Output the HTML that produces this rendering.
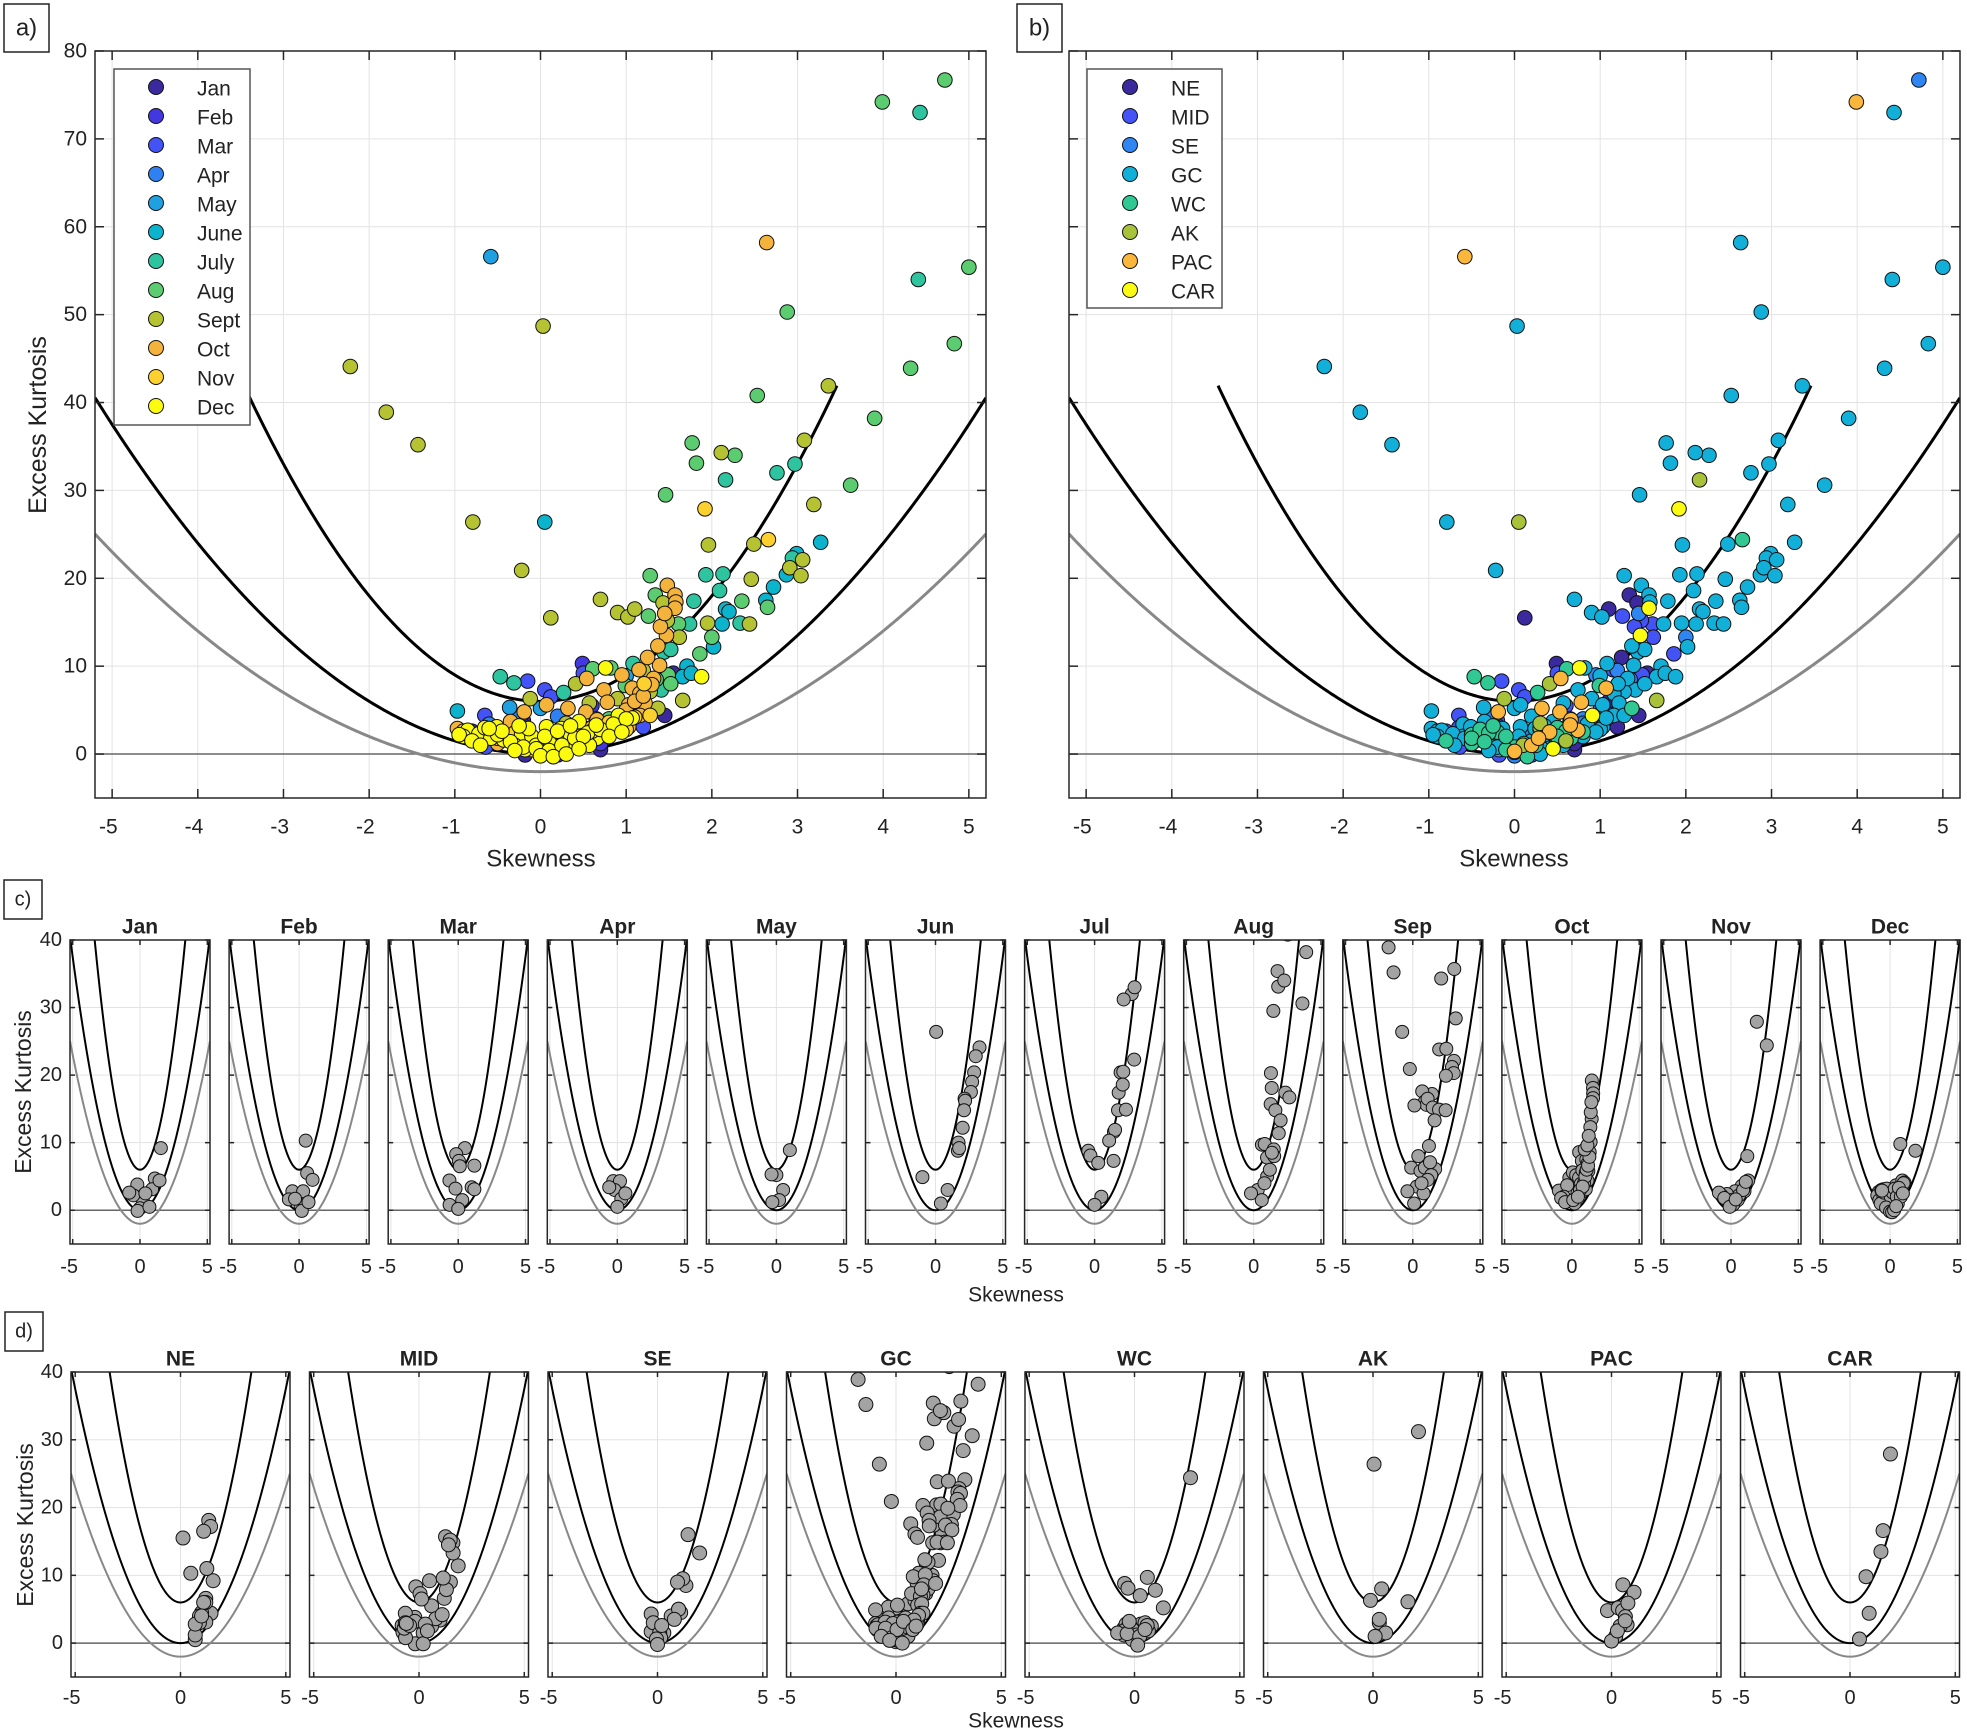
<!DOCTYPE html>
<html><head><meta charset="utf-8">
<style>
html,body{margin:0;padding:0;background:#fff;}
svg{display:block;font-family:"Liberation Sans",Arial,sans-serif;}
</style></head>
<body>
<svg id="fig" xmlns="http://www.w3.org/2000/svg" width="1967" height="1732" viewBox="0 0 1967 1732"></svg>
<script>
const monthTitles=['Jan','Feb','Mar','Apr','May','Jun','Jul','Aug','Sep','Oct','Nov','Dec'];
const monthLegend=['Jan','Feb','Mar','Apr','May','June','July','Aug','Sept','Oct','Nov','Dec'];
const regionNames=['NE','MID','SE','GC','WC','AK','PAC','CAR'];
const monthColors=['#3a2a9e','#4338e0','#4353f5','#2f80f0','#1fa0e0','#0bb4cc','#2ec4a0','#5ccc70','#b5c232','#f4b43c','#fcd02e','#fbfb10'];
const regionColors=['#3a2a9e','#4353f5','#2f86f3','#12b0d8','#30c893','#a8c23a','#fbb63c','#fcfc12'];
const xTicksMain=[-5,-4,-3,-2,-1,0,1,2,3,4,5];
const yTicksMain=[0,10,20,30,40,50,60,70,80];
const xTicksSmall=[-5,0,5];
const yTicksSmall=[0,10,20,30,40];

const skewByMonth=[
[1.55,1.1,-0.2,0.9,0.2,0.0,-0.5,1.45,-0.18,0.7,0.4,-0.8],
[0.49,0.6,1.0,-0.5,0.3,0.1,-0.76,0.2,-0.3,0.7],
[0.5,-0.15,1.2,0.05,0.12,-0.65,1.0,-0.2,0.3,-0.64,1.2,0.0],
[-0.3,0.2,-0.2,0.3,0.0,0.6,-0.6],
[1.0,0.0,0.5,-0.58,0.2,-0.36,-0.3],
[0.05,-0.97,3.27,2.99,2.87,2.72,2.63,2.16,2.2,2.12,2.02,1.71,1.66,1.76,0.9,0.4],
[4.43,4.41,2.76,2.97,2.16,2.94,1.93,2.13,1.79,2.09,1.74,2.33,1.44,1.52,1.08,-0.47,-0.31,0.27,1.41,0.5,0.0],
[3.99,4.72,5.0,4.83,4.32,2.88,2.53,3.90,1.77,1.82,2.27,3.62,1.46,1.28,1.34,2.35,2.65,1.26,1.61,2.0,1.86,0.61,0.82,0.99,1.49,1.52,0.3,0.6,-0.2,1.0,1.2,0.8,1.35],
[3.36,2.11,3.08,3.19,-0.79,0.03,-2.22,-1.8,-1.43,1.96,2.49,3.06,2.91,3.04,-0.22,2.46,1.43,0.70,0.90,1.02,1.10,0.12,1.48,1.95,2.44,1.62,1.66,-0.12,0.41,0.57,0.9,1.28,1.37,0.3,0.8,-0.4,0.1,1.1,0.65,1.2],
[2.64,1.48,1.57,1.58,1.57,1.47,1.37,1.39,0.54,0.74,1.32,1.07,1.16,-0.19,0.07,0.32,0.53,0.78,1.03,1.22,-0.97,-0.35,0.66,0.74,1.03,1.16,0.41,0.2,-0.6,0.9,1.0,1.1,1.2,1.3,0.6,0.8,0.95,1.15,1.25,1.4,1.45,-0.8,-0.5,0.1,0.45],
[1.92,2.66,1.21,1.28,0.8,0.3,-0.3,-0.7,0.0,0.5,1.0,-0.9,-0.5,0.15,0.6,0.9,1.1,-0.1,0.35],
[0.76,1.88,-0.85,-0.72,-0.51,-0.22,-0.1,0.07,0.24,0.45,0.91,1.07,0.86,0.66,0.49,0.32,0.15,0.0,-0.18,-0.3,-0.43,-0.58,0.28,0.11,-0.05,-0.14,0.57,-0.9,0.6,0.35,
 -0.95,-0.8,-0.65,-0.5,-0.35,-0.2,-0.05,0.1,0.25,0.4,0.55,0.7,0.85,1.0,-0.7,-0.45,-0.25,0.05,0.2,0.35,0.5,0.65,0.8,-0.3,0.0,0.15,0.3,0.45,-0.6,0.95]
];
const kurtByMonth=[
[9.2,4.7,3.8,3.1,1.5,0.3,2.2,4.4,-0.1,0.5,2.5,2.6],
[10.3,5.5,4.5,2.8,2.8,0.8,1.6,-0.1,1.7,1.2],
[9.2,8.3,6.6,7.3,6.5,4.4,3.4,3.2,1.5,0.8,3.1,0.2],
[4.3,4.3,3.0,1.7,0.5,2.5,3.4],
[8.9,5.2,3.0,56.6,1.5,5.3,1.2],
[26.4,4.9,24.1,22.8,20.4,19.0,17.5,16.5,16.2,14.8,12.2,10.0,8.8,9.2,3.0,1.0],
[73.0,54.0,32,33,31.2,22.3,20.4,20.5,17.4,18.6,14.8,14.9,11.6,11.9,10.3,8.8,8.1,7.0,7.3,2.0,0.8],
[74.2,76.7,55.4,46.7,43.9,50.3,40.8,38.2,35.4,33.1,34.0,30.6,29.5,20.3,18.1,17.4,16.7,15.7,14.8,13.3,11.4,9.7,9.8,7.8,9.0,8.0,3.0,1.5,2.5,5.0,6.0,4.0,8.5],
[41.9,34.3,35.7,28.4,26.4,48.7,44.1,38.9,35.2,23.8,23.9,22.1,21.2,20.3,20.9,19.9,17.2,17.6,16.1,15.6,16.5,15.5,15.2,14.9,14.8,13.3,6.1,6.3,8.0,5.8,6.3,7.1,5.2,3.5,2.5,2.8,1.0,4.5,4.0,9.5],
[58.2,19.2,18.1,17.3,16.6,13.5,12.3,10.1,8.6,7.3,8.6,7.5,6.9,4.8,5.6,5.2,4.8,5.9,5.6,5.8,2.9,3.7,3.9,2.7,3.1,4.4,2.5,1.0,2.0,4.0,5.0,6.0,6.6,7.9,3.0,3.5,9.0,9.6,11.0,14.5,16.0,1.8,1.2,1.5,2.0],
[27.9,24.4,8.0,4.4,3.6,2.8,2.4,2.2,1.5,1.5,2.8,2.6,1.8,0.8,2.2,3.0,4.2,0.5,1.6],
[9.8,8.8,2.7,2.3,3.1,2.3,2.0,3.1,2.9,3.7,4.4,4.1,3.1,1.8,1.2,0.6,0.5,0.3,0.5,1.0,1.6,1.8,1.8,1.2,1.0,2.9,1.0,2.0,2.6,2.2,
 2.2,1.5,3.0,2.2,1.4,0.8,0.6,0.4,1.0,1.8,2.4,2.8,3.4,4.0,1.0,2.6,3.2,2.0,2.6,3.2,2.0,3.3,2.0,0.4,-0.2,-0.3,0.0,0.6,2.9,2.5]
];
const regionByMonth=[
[0,0,1,0,1,3,4,0,1,0,4,1],
[0,1,0,1,4,3,1,1,2,0],
[1,1,0,1,1,1,1,1,2,1,0,3],
[2,3,2,3,3,1,3],
[3,3,4,6,3,3,3],
[5,3,3,3,3,3,3,3,3,3,3,3,3,3,3,3],
[3,3,3,3,5,3,3,3,3,3,3,3,3,3,3,4,4,4,3,4,4],
[6,2,3,3,3,3,3,3,3,3,3,3,3,3,0,3,3,1,1,2,1,4,3,4,1,3,5,5,4,2,0,2,2],
[3,3,3,3,3,3,3,3,3,3,3,3,3,3,3,3,0,3,3,3,0,0,1,3,3,1,5,5,5,3,3,3,4,5,4,4,5,2,2,2],
[3,3,3,3,7,7,3,3,6,3,3,6,3,6,3,6,6,6,3,3,3,3,6,6,3,3,6,6,3,0,2,0,1,1,3,2,2,1,0,1,2,3,4,2,3],
[7,4,3,3,1,1,4,1,3,4,3,3,4,2,3,0,1,4,3],
[7,3,3,3,3,3,4,3,3,3,7,3,3,4,3,3,3,6,3,3,3,3,6,4,3,3,3,3,4,3,
 3,4,1,3,4,3,2,3,4,1,3,0,3,0,3,1,4,3,2,3,4,6,3,3,2,4,3,7,1,3]
];

const NS='http://www.w3.org/2000/svg';
const svg=document.getElementById('fig');
let clipN=0;
function el(tag,attrs,parent){const e=document.createElementNS(NS,tag);for(const k in attrs)e.setAttribute(k,attrs[k]);(parent||svg).appendChild(e);return e;}
function txt(str,x,y,size,parent,opts){opts=opts||{};const t=el('text',{x:x,y:y,'font-size':size,'text-anchor':opts.anchor||'middle','dominant-baseline':'central',fill:'#222','font-weight':opts.bold?'bold':'normal'},parent);if(opts.rot)t.setAttribute('transform','rotate(-90 '+x+' '+y+')');t.textContent=str;return t;}

function allPoints(){const pts=[];for(let m=0;m<12;m++){for(let i=0;i<skewByMonth[m].length;i++){pts.push({s:skewByMonth[m][i],k:kurtByMonth[m][i],m:m,r:regionByMonth[m][i]});}}return pts;}

function panel(o){
  const g=el('g',{});
  
  
  const xs=v=>o.x+(v-(-5.2))/(10.4)*o.w;
  const ys=v=>o.y+(o.ymax-v)/(o.ymax+5)*o.h;
  const id='clip'+(clipN++);
  const cp=el('clipPath',{id:id},g);el('rect',{x:o.x,y:o.y,width:o.w,height:o.h},cp);
  const grid=el('g',{stroke:'#e3e3e3','stroke-width':1},g);
  
  
  o.xt.forEach(v=>el('line',{x1:xs(v),x2:xs(v),y1:o.y,y2:o.y+o.h},grid));
  o.yt.forEach(v=>el('line',{x1:o.x,x2:o.x+o.w,y1:ys(v),y2:ys(v)},grid));
  const inner=el('g',{'clip-path':'url(#'+id+')'},g);
  const z=el('line',{x1:o.x,x2:o.x+o.w,y1:ys(0),y2:ys(0),stroke:'#666','stroke-width':1.5},inner);
  
  
  function curve(f,smin,smax,color,name){let d='';for(let s=smin;s<=smax+1e-9;s+=0.02){d+=(d?'L':'M')+xs(s).toFixed(2)+','+ys(f(s)).toFixed(2);}const p=el('path',{d:d,fill:'none',stroke:color,'stroke-width':o.lw},inner);}
  curve(s=>s*s-2,-5.2,5.2,'#888','lower-bound-curve');
  curve(s=>1.5*s*s,-5.2,5.2,'#000','gamma-curve');
  curve(s=>6+3*s*s,-3.46,3.46,'#000','upper-curve');
  const pg=el('g',{},inner);
  
  
  const pts=allPoints().filter(o.filter);
  if(o.sortBy)pts.sort((a,b)=>a[o.sortBy]-b[o.sortBy]);
  pts.forEach(p=>{const c=el('circle',{cx:xs(p.s),cy:ys(p.k),r:o.r,fill:o.color(p),stroke:'#111','stroke-width':1},pg);});
  const box=el('rect',{x:o.x,y:o.y,width:o.w,height:o.h,fill:'none',stroke:'#262626','stroke-width':1.5},g);
  
  
  const tk=el('g',{stroke:'#262626','stroke-width':1.5},g);
  o.xt.forEach(v=>{el('line',{x1:xs(v),x2:xs(v),y1:o.y+o.h,y2:o.y+o.h-o.tl},tk);el('line',{x1:xs(v),x2:xs(v),y1:o.y,y2:o.y+o.tl},tk);});
  o.yt.forEach(v=>{el('line',{x1:o.x,x2:o.x+o.tl,y1:ys(v),y2:ys(v)},tk);el('line',{x1:o.x+o.w,x2:o.x+o.w-o.tl,y1:ys(v),y2:ys(v)},tk);});
  o.xt.forEach(v=>{const t=txt(String(v),xs(v)-(v<0?o.fs*0.18:0),o.y+o.h+o.xlOff,o.fs,g);});
  if(o.ylabels)o.yt.forEach(v=>{const t=txt(String(v),o.x-8,ys(v),o.fs,g,{anchor:'end'});});
  if(o.title){const t=txt(o.title,o.x+o.w/2,o.y-o.titleOff,o.tfs,g,{bold:true});}
  return g;
}
function labelBox(s,x,y,w,h,fs){const g=el('g',{});el('rect',{x:x,y:y,width:w,height:h,fill:'#fff',stroke:'#222','stroke-width':1.5},g);txt(s,x+w/2,y+h/2,fs,g);}
function legend(names,colors,x,y,w,h,cx,tx,name){const g=el('g',{});el('rect',{x:x,y:y,width:w,height:h,fill:'#fff',stroke:'#555','stroke-width':1.5},g);names.forEach((n,i)=>{const yy=87+i*29;const c=el('circle',{cx:cx,cy:yy,r:7.5,fill:colors[i],stroke:'#111','stroke-width':1},g);const t=txt(n,tx,yy+2,21,g,{anchor:'start'});});}

panel({name:'panel-a-by-month',x:95,y:51,w:891,h:747,ymax:80,xt:xTicksMain,yt:yTicksMain,r:7.3,lw:3,tl:9,fs:21,xlOff:29,ylabels:true,filter:p=>true,color:p=>monthColors[p.m]});
legend(monthLegend,monthColors,114,69,136,356,156,197,'legend-months');
labelBox('a)',4,4,45,48,24);
txt('Excess Kurtosis',38,425,25,svg,{rot:true});
txt('Skewness',541,859,24);
panel({name:'panel-b-by-region',x:1069,y:51,w:891,h:747,ymax:80,xt:xTicksMain,yt:yTicksMain,r:7.3,lw:3,tl:9,fs:21,xlOff:29,ylabels:false,filter:p=>true,sortBy:'r',color:p=>regionColors[p.r]});
legend(regionNames,regionColors,1087,69,135,239,1130,1171,'legend-regions');
labelBox('b)',1017,4,45,48,24);
txt('Skewness',1514,859,24);
labelBox('c)',4,880,38,39,20);
for(let m=0;m<12;m++){
  panel({name:'subplot-'+monthTitles[m].toLowerCase(),x:70+159.1*m,y:940,w:140,h:304,ymax:40,xt:xTicksSmall,yt:yTicksSmall,r:6.5,lw:2,tl:5,fs:20,xlOff:23,ylabels:m===0,title:monthTitles[m],titleOff:13,tfs:21,filter:p=>p.m===m,color:p=>'#a3a3a3'});
}
txt('Excess Kurtosis',23,1092,23,svg,{rot:true});
txt('Skewness',1016,1295,21);
labelBox('d)',5,1312,38,39,20);
for(let r=0;r<8;r++){
  panel({name:'subplot-'+regionNames[r].toLowerCase(),x:71+238.5*r,y:1372,w:219,h:305,ymax:40,xt:xTicksSmall,yt:yTicksSmall,r:7,lw:2,tl:5,fs:20,xlOff:21,ylabels:r===0,title:regionNames[r],titleOff:13,tfs:21,filter:p=>p.r===r,color:p=>'#a3a3a3'});
}
txt('Excess Kurtosis',25,1525,23,svg,{rot:true});
txt('Skewness',1016,1721,21);
</script>
</body></html>
